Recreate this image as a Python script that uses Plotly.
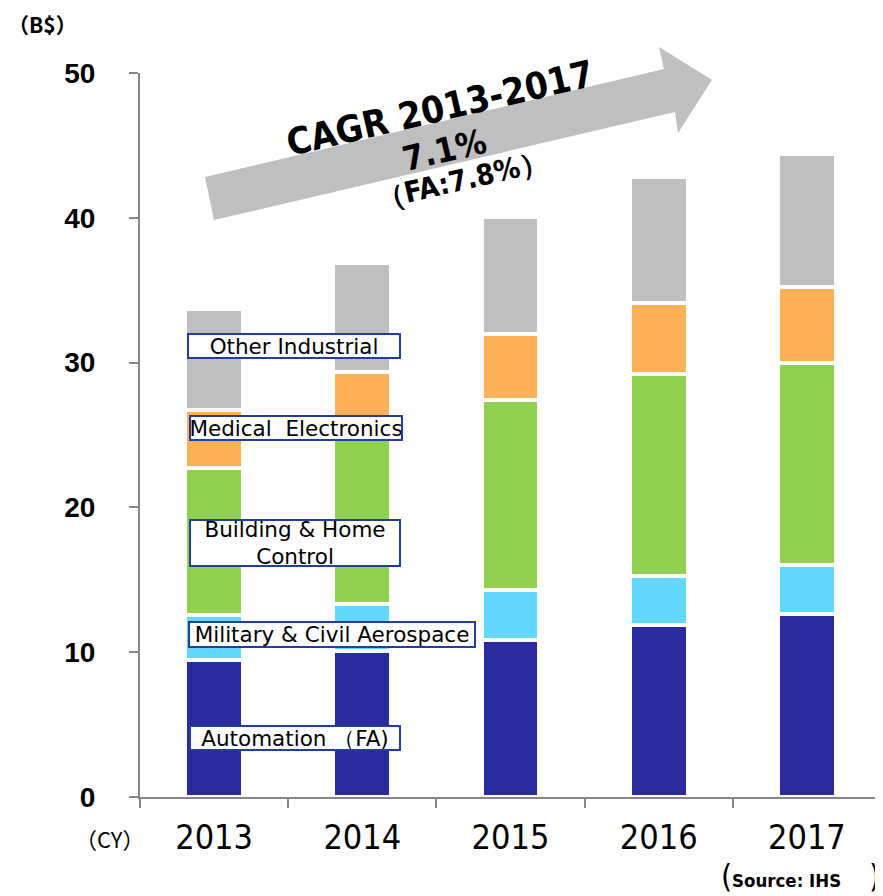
import plotly.graph_objects as go

years = ["2013", "2014", "2015", "2016", "2017"]
automation = [9.45, 10.1, 10.85, 11.9, 12.65]
aerospace = [3.15, 3.25, 3.43, 3.35, 3.35]
building = [10.1, 12.25, 13.12, 13.95, 14.0]
medical = [4.0, 3.75, 4.57, 4.9, 5.25]
other = [7.0, 7.5, 8.1, 8.7, 9.15]

series = [
    ("Automation (FA)", automation, "#2B2A9E"),
    ("Military & Civil Aerospace", aerospace, "#63D8FF"),
    ("Building & Home Control", building, "#92D050"),
    ("Medical Electronics", medical, "#FFB15A"),
    ("Other Industrial", other, "#BFBFBF"),
]

# page body has an 8px margin, so the figure is drawn 8px smaller
OFF = 8
W, H = 883 - OFF, 896 - OFF
L, R, T, B = 140 - OFF, 2, 73 - OFF, 99
PW, PH = W - L - R, H - T - B

NARROW = "DejaVu Sans Condensed, Liberation Sans"
CJK = "Noto Sans CJK JP"


def px(x):
    return (x - OFF - L) / PW


def py(y):
    return (H - B - (y - OFF)) / PH


fig = go.Figure()
for name, vals, clr in series:
    fig.add_trace(go.Bar(
        x=years,
        y=vals,
        name=name,
        marker=dict(color=clr, line=dict(color="white", width=4)),
    ))

# labels for the segments
boxes = [
    ("Other Industrial", 294, 346, 210, 22),
    ("Medical  Electronics", 296, 428, 210, 22),
    ("Building & Home<br>Control", 295, 543, 208, 44),
    ("Military & Civil Aerospace", 332, 634.5, 284, 23),
    ("Automation （FA)", 295, 738, 208, 22),
]
for txt, bx, by, bw, bh in boxes:
    fig.add_annotation(
        text=txt, xref="paper", yref="paper", x=px(bx), y=py(by),
        xanchor="center", yanchor="middle",
        showarrow=False, width=bw, height=bh,
        bgcolor="white", bordercolor="#1F3F9A", borderwidth=2, borderpad=0,
        font=dict(family="DejaVu Sans", size=21.5, color="black"),
    )

# big growth arrow
pts = [(214, 220), (205, 177), (664, 69), (659, 47), (712, 80), (678, 133), (675, 112)]
path = "M " + " L ".join(f"{px(a)},{py(b)}" for a, b in pts) + " Z"
fig.add_shape(type="path", path=path, xref="paper", yref="paper",
              fillcolor="#BFBFBF", line=dict(width=0), layer="below")


def note(txt, x, y, size, family=NARROW, angle=0):
    fig.add_annotation(text=txt, xref="paper", yref="paper", x=px(x), y=py(y),
                       xanchor="center", yanchor="middle", showarrow=False,
                       textangle=angle,
                       font=dict(family=family, size=size, color="black"))


note("<b>CAGR 2013-2017</b>", 440, 108, 37, angle=-13)
note("<b>7.1%</b>", 444, 150, 34, angle=-13)
note("<b>（FA:7.8%）</b>", 462, 180, 29, angle=-13)

note("<b>（B$）</b>", 42, 24, 21, family=CJK)
note("（CY）", 110, 838, 22, family=CJK)
note("<b>Source: IHS</b>", 786, 880, 18.5)
note("(", 726, 876, 32)
note(")", 874, 876, 32)

fig.update_layout(
    barmode="stack",
    bargap=0.61,
    width=W, height=H,
    margin=dict(l=L, r=R, t=T, b=B),
    plot_bgcolor="white", paper_bgcolor="white",
    showlegend=False,
)
fig.update_yaxes(
    range=[0, 50], tickvals=[0, 10, 20, 30, 40, 50],
    showgrid=False, showline=True, linecolor="#868686", linewidth=2,
    ticks="outside", ticklen=9, tickcolor="#868686", tickwidth=2,
    ticklabelstandoff=28,
    tickfont=dict(family="Liberation Sans", size=28, color="black", weight="bold"),
)
fig.update_xaxes(
    showgrid=False, showline=True, linecolor="#868686", linewidth=2,
    ticks="outside", ticklen=9, tickcolor="#868686", tickwidth=2,
    tickson="boundaries", ticklabelstandoff=9,
    tickfont=dict(family=NARROW, size=34, color="black"),
)

fig.write_html("out.html")
